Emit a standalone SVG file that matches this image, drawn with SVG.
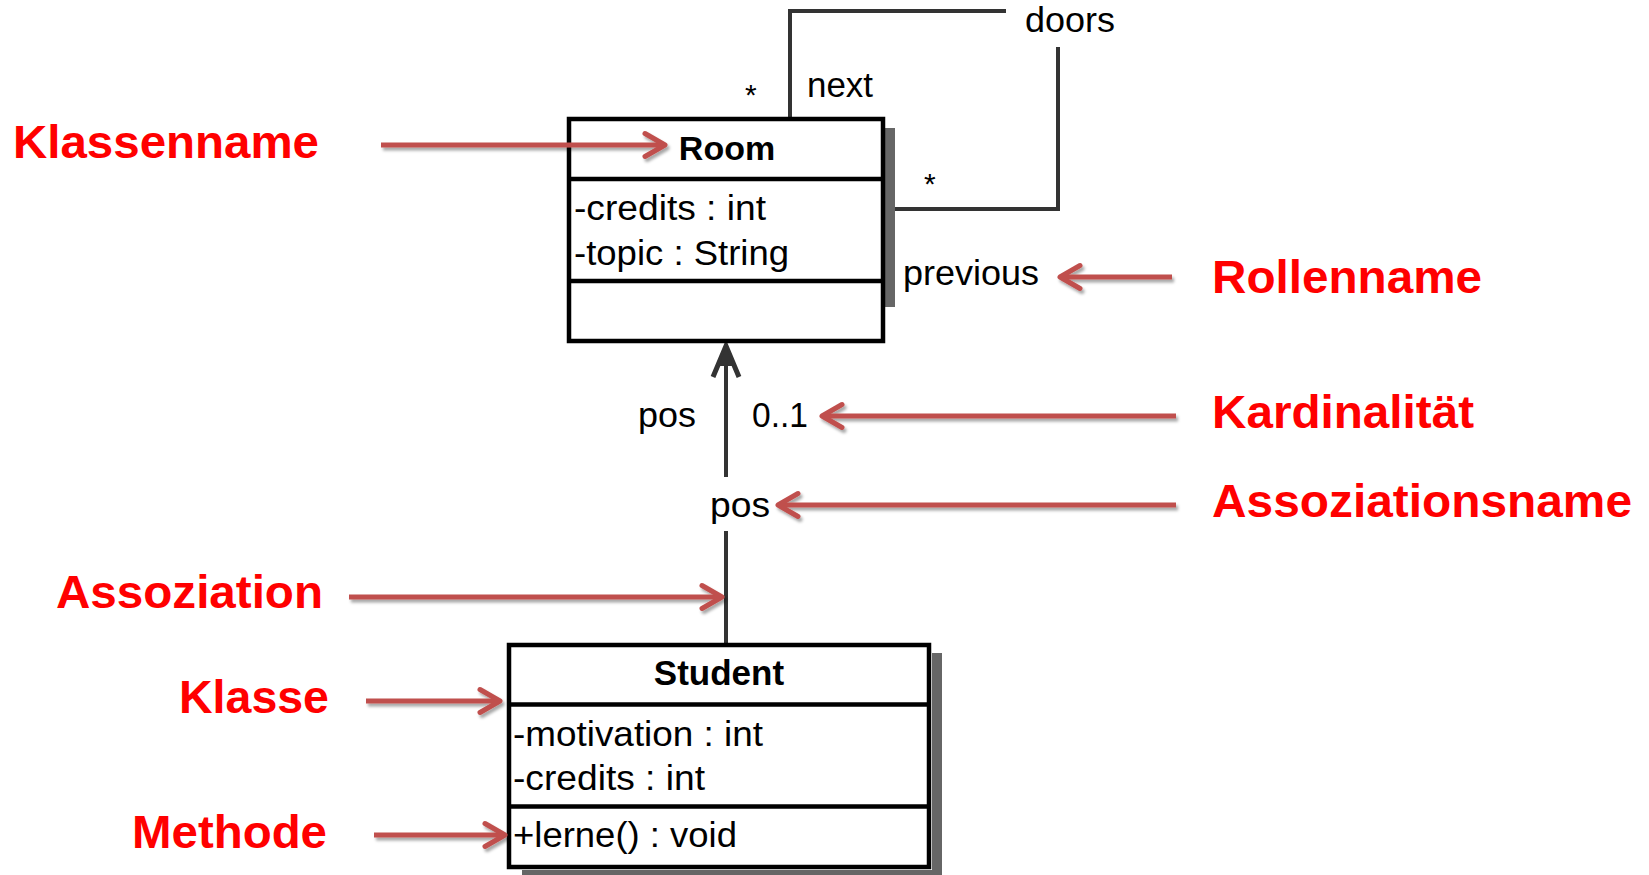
<svg xmlns="http://www.w3.org/2000/svg" width="1649" height="875" viewBox="0 0 1649 875">
<defs>
<style>
.box{fill:#fff;stroke:#000;stroke-width:4.5}
.sep{stroke:#000;stroke-width:4.5}
.shadow{fill:#666}
.uml{font-family:"Liberation Sans",Arial,sans-serif;font-size:35px;fill:#000}
.bold{font-weight:bold}
.assoc{fill:none;stroke:#333;stroke-width:4}
.note{font-family:"Liberation Sans",Arial,sans-serif;font-size:47px;font-weight:bold;fill:#ff0000}
.red{fill:none;stroke:#c0504d;stroke-width:5;marker-end:url(#redhead)}
</style>
<marker id="redhead" markerUnits="userSpaceOnUse" viewBox="-30 -20 40 40" markerWidth="40" markerHeight="40" refX="0" refY="0" orient="auto">
<path d="M-20,-11.5 L0,0 L-20,11.5" fill="none" stroke="#c0504d" stroke-width="5" stroke-linecap="round" stroke-linejoin="round"/>
</marker>
<filter id="soft" x="-10%" y="-50%" width="120%" height="200%">
<feDropShadow dx="2" dy="3" stdDeviation="1.8" flood-color="#000" flood-opacity="0.35"/>
</filter>
</defs>
<rect width="1649" height="875" fill="#fff"/>

<g id="connectors">
<polyline class="assoc" points="790,117 790,11 1006,11"/>
<polyline class="assoc" points="1058,47 1058,209 885,209"/>
<line class="assoc" x1="726" y1="348" x2="726" y2="477"/>
<polyline class="assoc" points="713,377 726,346 739,377" style="stroke-width:5"/>
<polygon points="726,346 733,366 719,366" fill="#333"/>
<line class="assoc" x1="726" y1="531" x2="726" y2="645"/>
<g class="uml">
<text x="1025" y="32" textLength="90" lengthAdjust="spacingAndGlyphs">doors</text>
<text x="807" y="97" textLength="66" lengthAdjust="spacingAndGlyphs">next</text>
<text x="745" y="105" style="font-size:30px">*</text>
<text x="924" y="194" style="font-size:30px">*</text>
<text x="903" y="285" textLength="136" lengthAdjust="spacingAndGlyphs">previous</text>
<text x="638" y="427" textLength="58" lengthAdjust="spacingAndGlyphs">pos</text>
<text x="752" y="427" textLength="56" lengthAdjust="spacingAndGlyphs">0..1</text>
<text x="710" y="517" textLength="60" lengthAdjust="spacingAndGlyphs">pos</text>
</g>
</g>

<g id="Room">
<rect class="shadow" x="885" y="128" width="10" height="179"/>
<rect class="box" x="569" y="119" width="314" height="222"/>
<line class="sep" x1="569" y1="179" x2="883" y2="179"/>
<line class="sep" x1="569" y1="281" x2="883" y2="281"/>
<text class="uml bold" x="727" y="160" text-anchor="middle" style="font-size:34px">Room</text>
<text class="uml" x="574" y="220" textLength="192" lengthAdjust="spacingAndGlyphs">-credits : int</text>
<text class="uml" x="574" y="265" textLength="215" lengthAdjust="spacingAndGlyphs">-topic : String</text>
</g>

<g id="Student">
<rect class="shadow" x="932" y="653" width="10" height="222"/>
<rect class="shadow" x="522" y="870" width="420" height="5"/>
<rect class="box" x="509" y="645" width="420" height="222"/>
<line class="sep" x1="509" y1="704.5" x2="929" y2="704.5"/>
<line class="sep" x1="509" y1="806.5" x2="929" y2="806.5"/>
<text class="uml bold" x="719" y="685" text-anchor="middle">Student</text>
<text class="uml" x="513" y="746" textLength="250" lengthAdjust="spacingAndGlyphs">-motivation : int</text>
<text class="uml" x="513" y="790" textLength="192" lengthAdjust="spacingAndGlyphs">-credits : int</text>
<text class="uml" x="513" y="847" textLength="224" lengthAdjust="spacingAndGlyphs">+lerne() : void</text>
</g>

<g id="annotations">
<g id="annotation-arrows" filter="url(#soft)">
<line class="red" x1="381" y1="145" x2="665" y2="145"/>
<line class="red" x1="1172" y1="277" x2="1060" y2="277"/>
<line class="red" x1="1176" y1="416" x2="822" y2="416"/>
<line class="red" x1="1176" y1="505" x2="778" y2="505"/>
<line class="red" x1="349" y1="597" x2="722" y2="597"/>
<line class="red" x1="366" y1="701" x2="500" y2="701"/>
<line class="red" x1="374" y1="835" x2="505" y2="835"/>
</g>
<text id="Klassenname" class="note" x="13" y="158" textLength="306" lengthAdjust="spacingAndGlyphs">Klassenname</text>
<text id="Rollenname" class="note" x="1212" y="293" textLength="270" lengthAdjust="spacingAndGlyphs">Rollenname</text>
<text id="Kardinalitaet" class="note" x="1212" y="428" textLength="262" lengthAdjust="spacingAndGlyphs">Kardinalität</text>
<text id="Assoziationsname" class="note" x="1212" y="517" textLength="420" lengthAdjust="spacingAndGlyphs">Assoziationsname</text>
<text id="Assoziation" class="note" x="56" y="608" textLength="267" lengthAdjust="spacingAndGlyphs">Assoziation</text>
<text id="Klasse" class="note" x="179" y="713" textLength="150" lengthAdjust="spacingAndGlyphs">Klasse</text>
<text id="Methode" class="note" x="132" y="848" textLength="195" lengthAdjust="spacingAndGlyphs">Methode</text>
</g>
</svg>
